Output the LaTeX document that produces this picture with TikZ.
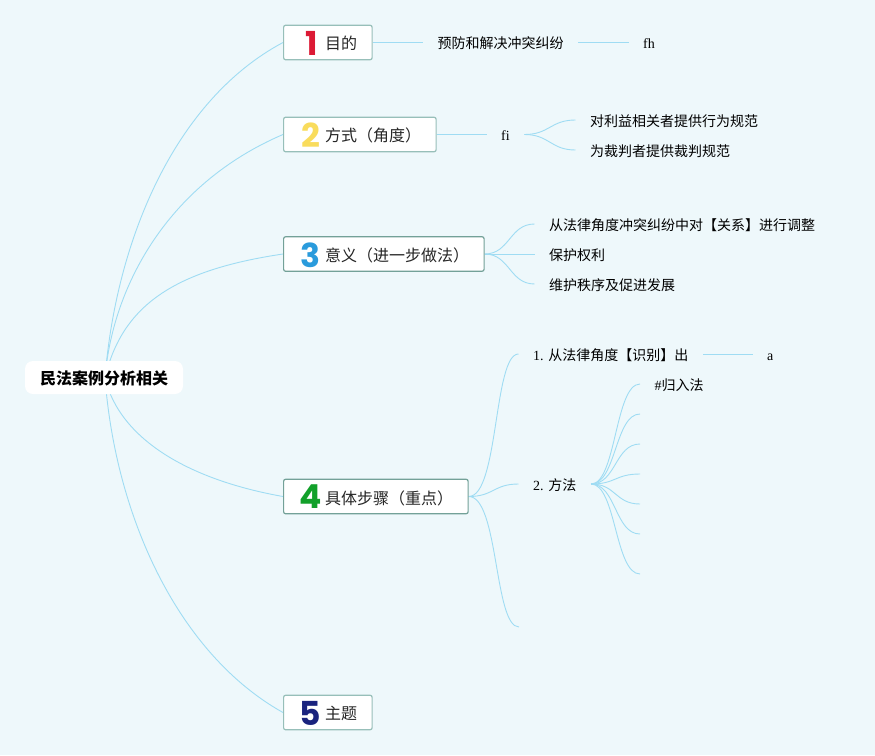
\documentclass[tikz,border=0pt]{standalone}
\usepackage{fontspec}
\setmainfont{Liberation Serif}
\newfontfamily\cjk{Noto Sans CJK SC}
\newfontfamily\numfont{Poppins}
\usetikzlibrary{backgrounds}
\definecolor{pagebg}{HTML}{EEF8FB}
\definecolor{linkblue}{HTML}{9FDCF3}
\definecolor{cardedge}{HTML}{97BFB9}
\definecolor{cardedgedark}{HTML}{73A198}
\definecolor{numred}{HTML}{DC1A35}
\definecolor{numyellow}{HTML}{F9DC5C}
\definecolor{numblue}{HTML}{2A9BDC}
\definecolor{numgreen}{HTML}{12A02A}
\definecolor{numnavy}{HTML}{1A237E}
\tikzset{
    card/.style={draw=cardedge, fill=white, line width=1.2pt, rounded corners=2pt, minimum height=34.5pt, inner sep=0pt, anchor=west},
    cardtext/.style={anchor=west, inner sep=0pt, font=\fontsize{16pt}{16pt}\cjk, text=black!85},
    marknum/.style={inner sep=0pt, font=\fontsize{33pt}{33pt}\numfont\bfseries},
    leaf/.style={anchor=west, inner xsep=14.5pt, inner ysep=0pt, text height=13pt, text depth=1pt, font=\fontsize{14pt}{14pt}\selectfont},
    link/.style={draw=linkblue, line width=0.9pt},
}
\begin{document}
\begin{tikzpicture}[x=1pt, y=-1pt]
    \path[use as bounding box] (0,0) rectangle (875,755);

    % Root
    \node (root) [fill=white, rounded corners=8pt, minimum width=158pt, minimum height=33pt, inner sep=0pt, text height=15pt, text depth=1pt, font=\fontsize{16pt}{16pt}\cjk\bfseries] at (104,377.5) {民法案例分析相关};
    \coordinate (hub) at (105,378);

    % Cards
    \node (goal) [card, minimum width=88.5pt] at (283,42.5) {};
    \node (way) [card, minimum width=152.5pt] at (283,134.5) {};
    \node (sense) [card, draw=cardedgedark, minimum width=200.5pt] at (283,254) {};
    \node (steps) [card, draw=cardedgedark, minimum width=184.5pt] at (283,496.5) {};
    \node (topic) [card, minimum width=88.5pt] at (283,712.5) {};

    % Card numbers
    \node (goalnum) [marknum, text=numred] at (312,43) {1};
    \node (waynum) [marknum, text=numyellow] at (310.5,135) {2};
    \node (sensenum) [marknum, text=numblue] at (310.5,255) {3};
    \node (stepsnum) [marknum, text=numgreen] at (310.5,497) {4};
    \node (topicnum) [marknum, text=numnavy] at (310.5,713) {5};

    % Card texts
    \node (goaltext) [cardtext] at (325,43) {目的};
    \node (waytext) [cardtext] at (325,135) {方式（角度）};
    \node (sensetext) [cardtext] at (325,255) {意义（进一步做法）};
    \node (stepstext) [cardtext] at (325,498) {具体步骤（重点）};
    \node (topictext) [cardtext] at (325,713) {主题};

    % Leaves
    \node (prevent) [leaf] at (423,42.5) {\cjk 预防和解决冲突纠纷};
    \node (fh) [leaf] at (628.5,42.5) {fh};
    \node (fi) [leaf] at (486.5,134.5) {fi};
    \node (conduct) [leaf] at (575.5,120) {\cjk 对利益相关者提供行为规范};
    \node (judge) [leaf] at (575.5,150) {\cjk 为裁判者提供裁判规范};
    \node (adjust) [leaf] at (534.5,224) {\cjk 从法律角度冲突纠纷中对【关系】进行调整};
    \node (rights) [leaf] at (534.5,254) {\cjk 保护权利};
    \node (order) [leaf] at (534.5,284) {\cjk 维护秩序及促进发展};
    \node (identify) [leaf] at (518.5,354) {1. {\cjk 从法律角度【识别】出}};
    \node (a) [leaf] at (752.5,354) {a};
    \node (method) [leaf] at (518.5,484) {2. {\cjk 方法}};
    \node (induct) [leaf] at (640,384) {\#{\cjk 归入法}};

    % Empty ends
    \coordinate (stepsend) at (519,627);
    \coordinate (end2) at (640,414);
    \coordinate (end3) at (640,444);
    \coordinate (end4) at (640,474);
    \coordinate (end5) at (640,504);
    \coordinate (end6) at (640,534);
    \coordinate (end7) at (640,574);

    \begin{scope}[on background layer]
        \fill[pagebg] (0,0) rectangle (875,755);
        % Root links
        \draw[link] (hub) .. controls (116,240) and (175,100) .. (goal.west);
        \draw[link] (hub) .. controls (112,290) and (165,185) .. (way.west);
        \draw[link] (hub) .. controls (122,305) and (175,270) .. (sense.west);
        \draw[link] (hub) .. controls (120,440) and (190,480) .. (steps.west);
        \draw[link] (hub) .. controls (116,520) and (180,655) .. (topic.west);
        % Straight links
        \draw[link] (goal.east) -- (prevent.west);
        \draw[link] (prevent.east) -- (fh.west);
        \draw[link] (way.east) -- (fi.west);
        \draw[link] (identify.east) -- (a.west);
        \draw[link] (sense.east) -- (rights.west);
        % Curved links
        \foreach \from/\to in {fi/conduct, fi/judge, sense/adjust, sense/order}
            \draw[link] (\from.east) .. controls +(25,0) and +(-25,0) .. (\to.west);
        \draw[link] (steps.east) .. controls +(30,0) and +(-25,0) .. (identify.west);
        \draw[link] (steps.east) .. controls +(25,0) and +(-25,0) .. (method.west);
        \draw[link] (steps.east) .. controls +(30,0) and +(-25,0) .. (stepsend);
        \draw[link] (method.east) .. controls +(25,0) and +(-25,0) .. (induct.west);
        \foreach \to in {end2, end3, end4, end5, end6, end7}
            \draw[link] (method.east) .. controls +(25,0) and +(-25,0) .. (\to);
    \end{scope}
\end{tikzpicture}
\end{document}
